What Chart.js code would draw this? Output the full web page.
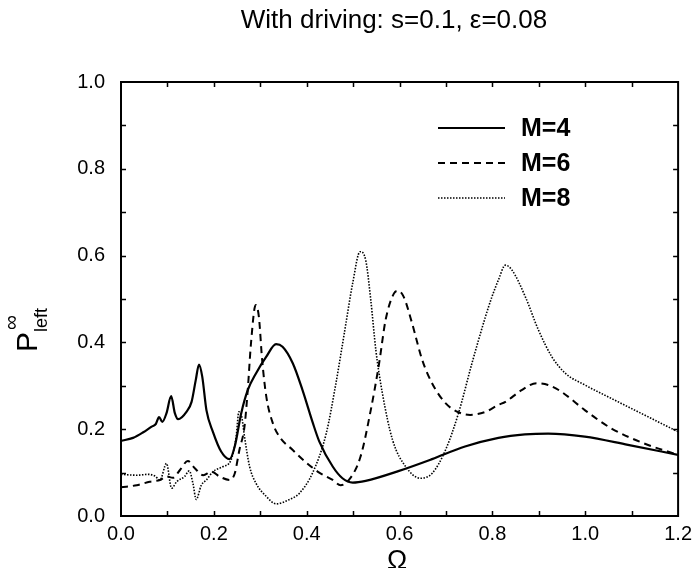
<!DOCTYPE html>
<html>
<head>
<meta charset="utf-8">
<script src="https://cdn.jsdelivr.net/npm/chart.js@4.4.1/dist/chart.umd.min.js"></script>
<style>
  html, body { margin: 0; padding: 0; background: #fff; }
  #wrap { width: 698px; height: 568px; }
</style>
</head>
<body>
<div id="wrap"><canvas id="c" width="698" height="568"></canvas></div>
<script>
// ---- Data (Ω, P_left^∞) ----
const omegaM4 = [0.000,0.026,0.048,0.066,0.075,0.082,0.089,0.098,0.108,0.116,0.123,0.141,0.152,0.161,0.168,0.175,0.184,0.198,0.216,0.234,0.245,0.259,0.273,0.291,0.313,0.334,0.348,0.370,0.391,0.413,0.427,0.456,0.477,0.499,0.527,0.599,0.670,0.741,0.813,0.870,0.920,0.999,1.092,1.200];
const pM4     = [0.173,0.180,0.193,0.206,0.212,0.228,0.217,0.237,0.276,0.237,0.223,0.240,0.263,0.313,0.349,0.321,0.244,0.194,0.148,0.131,0.160,0.237,0.290,0.329,0.367,0.396,0.390,0.352,0.290,0.215,0.172,0.114,0.087,0.077,0.081,0.104,0.131,0.160,0.180,0.188,0.190,0.183,0.164,0.141];

const omegaM6 = [0.000,0.034,0.062,0.084,0.098,0.112,0.127,0.144,0.159,0.177,0.195,0.212,0.234,0.245,0.255,0.266,0.273,0.280,0.290,0.297,0.304,0.313,0.327,0.341,0.370,0.398,0.427,0.456,0.473,0.491,0.516,0.538,0.556,0.570,0.588,0.597,0.609,0.627,0.649,0.670,0.699,0.727,0.752,0.785,0.813,0.828,0.863,0.895,0.920,0.949,0.999,1.056,1.127,1.200];
const pM6     = [0.066,0.071,0.079,0.083,0.091,0.088,0.106,0.127,0.110,0.094,0.102,0.091,0.083,0.098,0.152,0.206,0.290,0.398,0.486,0.459,0.360,0.275,0.214,0.183,0.152,0.124,0.100,0.083,0.071,0.083,0.137,0.244,0.352,0.452,0.513,0.519,0.505,0.444,0.359,0.306,0.260,0.239,0.233,0.240,0.256,0.263,0.290,0.306,0.302,0.286,0.244,0.202,0.167,0.141];

const omegaM8 = [0.000,0.034,0.059,0.073,0.084,0.098,0.109,0.120,0.137,0.147,0.155,0.162,0.173,0.184,0.198,0.220,0.237,0.248,0.254,0.260,0.266,0.277,0.291,0.313,0.334,0.363,0.384,0.413,0.442,0.463,0.481,0.499,0.515,0.527,0.538,0.549,0.563,0.585,0.613,0.645,0.670,0.699,0.727,0.756,0.785,0.799,0.813,0.828,0.842,0.871,0.899,0.928,0.957,0.999,1.056,1.127,1.200];
const pM8     = [0.096,0.094,0.096,0.092,0.083,0.121,0.064,0.079,0.091,0.104,0.075,0.038,0.071,0.083,0.102,0.114,0.129,0.183,0.240,0.229,0.183,0.114,0.075,0.045,0.028,0.038,0.052,0.100,0.190,0.306,0.421,0.536,0.609,0.590,0.498,0.382,0.283,0.175,0.114,0.087,0.098,0.152,0.237,0.352,0.459,0.505,0.544,0.578,0.567,0.505,0.429,0.367,0.329,0.302,0.271,0.233,0.194];

const seriesLabels = ['M=4', 'M=6', 'M=8'];
const xTickValues = [0.0, 0.2, 0.4, 0.6, 0.8, 1.0, 1.2];
const yTickValues = [0.0, 0.2, 0.4, 0.6, 0.8, 1.0];

const titleText = 'With driving: s=0.1, \u03B5=0.08';
const xTitle = '\u03A9';

const FONT = '"Liberation Sans", Arial, Helvetica, sans-serif';

function pts(xs, ys) { return xs.map((v, i) => ({ x: v, y: ys[i] })); }

const styles = [
  { dash: [], width: 2.2 },
  { dash: [7, 5], width: 2.0 },
  { dash: [1.5, 1.5], width: 1.6 }
];

const datasets = [pts(omegaM4, pM4), pts(omegaM6, pM6), pts(omegaM8, pM8)].map((d, i) => ({
  label: seriesLabels[i],
  data: d,
  borderColor: '#000',
  borderWidth: styles[i].width,
  borderDash: styles[i].dash,
  pointRadius: 0,
  fill: false,
  cubicInterpolationMode: 'monotone'
}));

const decor = {
  id: 'decor',
  afterDraw(chart) {
    const { ctx, chartArea: a, scales: { x, y } } = chart;
    ctx.save();
    // Frame
    ctx.strokeStyle = '#000';
    ctx.lineWidth = 2;
    ctx.setLineDash([]);
    ctx.strokeRect(a.left, a.top, a.right - a.left, a.bottom - a.top);
    // Inward ticks every 0.1 on all four sides
    ctx.lineWidth = 1.5;
    ctx.beginPath();
    for (let i = 1; i < 12; i++) {
      const px = Math.round(x.getPixelForValue(i / 10)) + 0.5;
      ctx.moveTo(px, a.bottom); ctx.lineTo(px, a.bottom - 5);
      ctx.moveTo(px, a.top); ctx.lineTo(px, a.top + 5);
    }
    for (let i = 1; i < 10; i++) {
      const py = Math.round(y.getPixelForValue(i / 10)) + 0.5;
      ctx.moveTo(a.left, py); ctx.lineTo(a.left + 5, py);
      ctx.moveTo(a.right, py); ctx.lineTo(a.right - 5, py);
    }
    ctx.stroke();

    ctx.fillStyle = '#000';
    // Title
    ctx.font = '26px ' + FONT;
    ctx.textAlign = 'center';
    ctx.textBaseline = 'middle';
    ctx.fillText(titleText, 394, 21);

    // x-axis title Ω
    ctx.font = '27px ' + FONT;
    ctx.textAlign = 'center';
    ctx.textBaseline = 'alphabetic';
    ctx.fillText(xTitle, 397, 569);

    // y-axis title P_left^∞ (rotated)
    ctx.save();
    ctx.translate(37, 352);
    ctx.rotate(-Math.PI / 2);
    ctx.textAlign = 'left';
    ctx.textBaseline = 'alphabetic';
    ctx.font = '30px ' + FONT;
    ctx.fillText('P', 0, 0);
    ctx.font = '18px ' + FONT;
    ctx.fillText('left', 20, 10);
    ctx.font = '21px ' + FONT;
    ctx.textBaseline = 'middle';
    ctx.fillText('\u221E', 22, -25);
    ctx.restore();

    // Legend
    const rowsY = [128, 163, 198];
    chart.data.datasets.forEach((ds, i) => {
      const yy = rowsY[i];
      ctx.beginPath();
      ctx.lineWidth = ds.borderWidth;
      ctx.setLineDash(ds.borderDash);
      ctx.moveTo(438, yy); ctx.lineTo(505, yy);
      ctx.stroke();
      ctx.setLineDash([]);
      ctx.font = 'bold 25px ' + FONT;
      ctx.textAlign = 'left';
      ctx.textBaseline = 'middle';
      ctx.fillText(ds.label, 521, yy + 1);
    });
    ctx.restore();
  }
};

new Chart(document.getElementById('c'), {
  type: 'line',
  data: { datasets },
  options: {
    responsive: false,
    animation: false,
    devicePixelRatio: 1,
    layout: { padding: { left: 0, right: 18, top: 82, bottom: 0 } },
    plugins: { legend: { display: false }, title: { display: false }, tooltip: { enabled: false } },
    scales: {
      x: {
        type: 'linear', min: 0, max: 1.2,
        afterFit: s => { s.height = 52; },
        afterBuildTicks: s => { s.ticks = xTickValues.map(v => ({ value: v })); },
        grid: { display: false, drawTicks: false },
        border: { display: false },
        ticks: {
          padding: 6, color: '#000', maxRotation: 0, autoSkip: false,
          font: { family: FONT, size: 20 },
          callback: v => v.toFixed(1)
        }
      },
      y: {
        type: 'linear', min: 0, max: 1.0,
        afterFit: s => { s.width = 121; },
        afterBuildTicks: s => { s.ticks = yTickValues.map(v => ({ value: v })); },
        grid: { display: false, drawTicks: false },
        border: { display: false },
        ticks: {
          padding: 16, color: '#000', autoSkip: false,
          font: { family: FONT, size: 20 },
          callback: v => v.toFixed(1)
        }
      }
    }
  },
  plugins: [decor]
});
</script>
</body>
</html>
